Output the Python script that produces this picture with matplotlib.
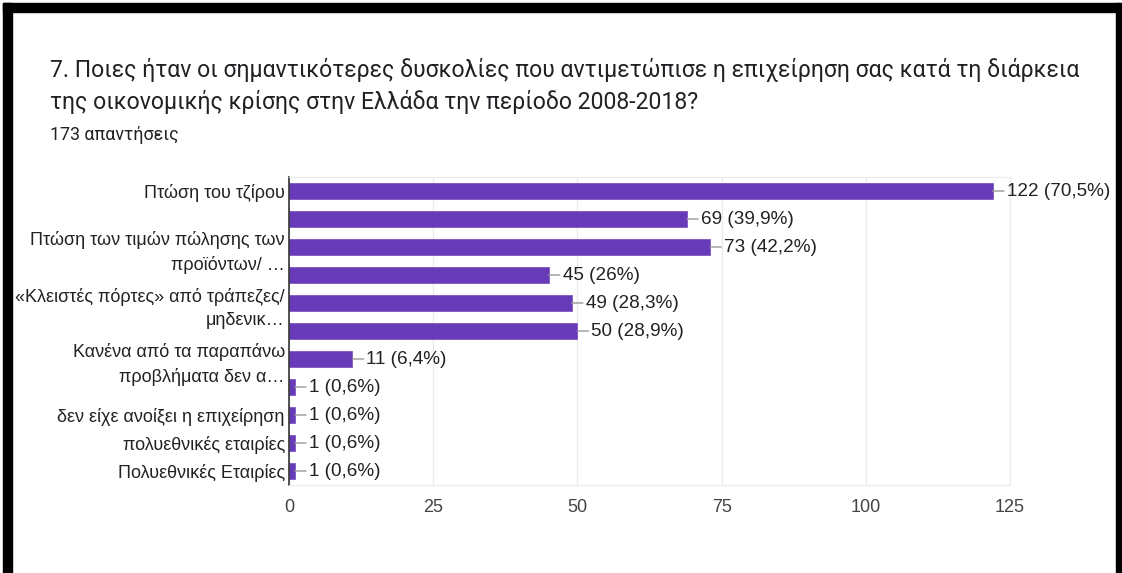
import matplotlib
matplotlib.use("Agg")
import matplotlib.pyplot as plt
from matplotlib.patches import Rectangle

categories = [
    "Πτώση του τζίρου",
    "",
    "Πτώση των τιμών πώλησης των\nπροϊόντων/ …",
    "",
    "«Κλειστές πόρτες» από τράπεζες/\nμηδενικ…",
    "",
    "Κανένα από τα παραπάνω\nπροβλήματα δεν α…",
    "",
    "δεν είχε ανοίξει η επιχείρηση",
    "πολυεθνικές εταιρίες",
    "Πολυεθνικές Εταιρίες",
]
values = [122, 69, 73, 45, 49, 50, 11, 1, 1, 1, 1]
percents = ["70,5%", "39,9%", "42,2%", "26%", "28,3%", "28,9%", "6,4%", "0,6%", "0,6%", "0,6%", "0,6%"]
xticks = [0, 25, 50, 75, 100, 125]

title = ("7. Ποιες ήταν οι σημαντικότερες δυσκολίες που αντιμετώπισε η επιχείρηση σας κατά τη διάρκεια\n"
         "της οικονομικής κρίσης στην Ελλάδα την περίοδο 2008-2018?")
subtitle = "173 απαντήσεις"

W, H = 1122, 573
fig = plt.figure(figsize=(W / 100, H / 100), dpi=100)
fig.patch.set_facecolor("white")

# black frame (left, top, right)
for (x0, y0, w, h) in [(3, 3, 9, H), (3, 3, W - 6, 9), (1116, 3, 6, H)]:
    fig.add_artist(Rectangle((x0 / W, 1 - (y0 + h) / H), w / W, h / H,
                             transform=fig.transFigure, color="black", zorder=10))

fig.text(50 / W, 1 - 58 / H, title, fontsize=16.6, family="Roboto", color="#202124",
         va="top", ha="left", linespacing=1.4)
fig.text(50 / W, 1 - 135 / H, subtitle, fontsize=12.9, family="Roboto", color="#202124",
         va="center", ha="left")

ax = fig.add_axes([289 / W, 1 - 485 / H, (1010 - 289) / W, (485 - 177) / H])
n = len(values)
ypos = list(range(n))
ax.barh(ypos, values, height=0.6, color="#673ab7", edgecolor="#7e57c2", linewidth=0.6)
ax.set_ylim(n - 0.5, -0.5)
ax.set_xlim(0, 125)
ax.set_xticks(xticks)
ax.set_xticklabels([str(t) for t in xticks], fontsize=13, family="Liberation Sans", color="#444444")
ax.set_yticks(ypos)
ax.set_yticklabels(categories, fontsize=13, family="Liberation Sans", color="#222222", linespacing=1.5)
ax.tick_params(axis="both", length=0)
ax.tick_params(axis="x", pad=10)
ax.tick_params(axis="y", pad=3)
ax.grid(axis="x", color="#ebebeb", linewidth=1)
ax.set_axisbelow(True)
for s in ["top", "right", "bottom"]:
    ax.spines[s].set_color("#ebebeb")
ax.spines["left"].set_color("#333333")
ax.spines["left"].set_linewidth(1.2)

for i, (v, p) in enumerate(zip(values, percents)):
    ax.annotate(f"{v} ({p})", xy=(v, i), xytext=(14, 0), textcoords="offset pixels",
                va="center", ha="left", fontsize=13.6, family="Liberation Sans", color="#222222",
                arrowprops=dict(arrowstyle="-", color="#999999", lw=1, shrinkA=0, shrinkB=0),
                annotation_clip=False)

fig.savefig("out.png", dpi=100)
